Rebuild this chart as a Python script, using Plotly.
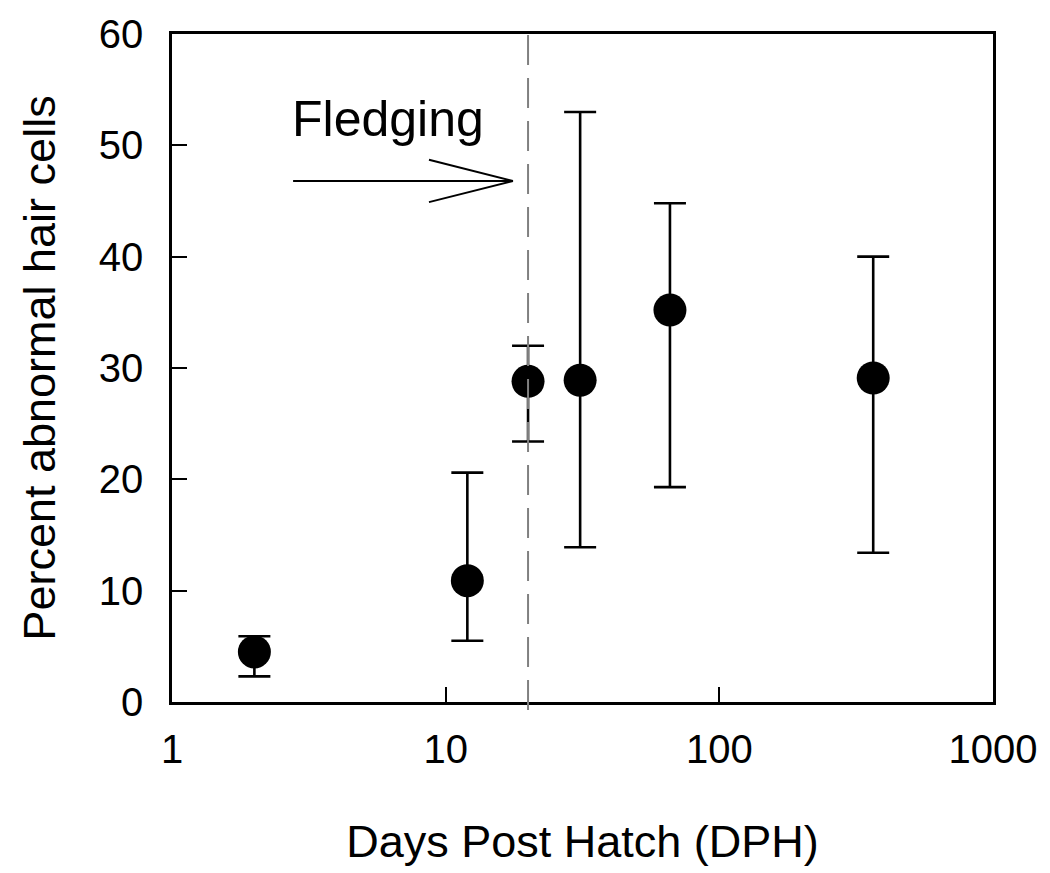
import plotly.graph_objects as go
import numpy as np

# Data
days = [2, 12, 20, 31, 66, 365]
percent = [4.5, 10.9, 28.8, 28.9, 35.2, 29.1]
err_plus = [1.4, 9.7, 3.2, 24.1, 9.6, 10.9]
err_minus = [2.2, 5.4, 5.4, 15.0, 15.9, 15.7]

fledging_day = 20
x_ticks = [1, 10, 100, 1000]
x_tick_labels = ["1", "10", "100", "1000"]
y_ticks = [0, 10, 20, 30, 40, 50, 60]

FONT = "Liberation Sans, Arial, sans-serif"

fig = go.Figure()

fig.add_trace(go.Scatter(
    x=days, y=percent, mode="markers",
    marker=dict(size=33, color="black"),
    error_y=dict(type="data", symmetric=False, array=err_plus, arrayminus=err_minus,
                 color="black", thickness=2.6, width=16),
    showlegend=False, cliponaxis=False,
))

# Arrow (open V head) drawn as lines
arrow_x = [2.77, 17.6]
arrow_y = [46.8, 46.8]
head_x = [8.69, 17.6, 8.69]
head_y = [48.7, 46.8, 44.9]
fig.add_trace(go.Scatter(x=arrow_x, y=arrow_y, mode="lines",
                         line=dict(color="black", width=2), showlegend=False, hoverinfo="skip"))
fig.add_trace(go.Scatter(x=head_x, y=head_y, mode="lines",
                         line=dict(color="black", width=2), showlegend=False, hoverinfo="skip"))

# dashed fledging line
fig.add_shape(type="line", xref="x", yref="paper", x0=fledging_day, x1=fledging_day,
              y0=-0.012, y1=1.012, line=dict(color="#808080", width=2, dash="30px,13px"))

fig.add_annotation(x=np.log10(6.15), y=52.4, xref="x", yref="y", text="Fledging",
                   showarrow=False, font=dict(family=FONT, size=50, color="black"))

fig.update_xaxes(type="log", range=[0, 3], tickvals=x_ticks, ticktext=x_tick_labels,
                 ticks="inside", ticklen=15, tickwidth=2, tickcolor="black",
                 showline=True, linewidth=2.5, linecolor="black", mirror=True,
                 showgrid=False, zeroline=False, ticklabeloverflow="allow",
                 tickfont=dict(family=FONT, size=40, color="black"),
                 ticklabelstandoff=10,
                 title=dict(text="Days Post Hatch (DPH)", standoff=56,
                            font=dict(family=FONT, size=45, color="black")))
fig.update_yaxes(range=[0, 60], tickvals=y_ticks,
                 ticks="inside", ticklen=15, tickwidth=2, tickcolor="black",
                 showline=True, linewidth=2.5, linecolor="black", mirror=True,
                 showgrid=False, zeroline=False, ticklabeloverflow="allow",
                 tickfont=dict(family=FONT, size=40, color="black"),
                 ticklabelstandoff=18,
                 title=dict(text="Percent abnormal hair cells", standoff=30,
                            font=dict(family=FONT, size=45, color="black")))

fig.update_layout(width=1050, height=873, margin=dict(l=172, r=57, t=25, b=171),
                  plot_bgcolor="white", paper_bgcolor="white",
                  font=dict(family=FONT, color="black"))

fig.write_html("out.html", config={"displayModeBar": False},
               post_script="document.body.style.margin='0';")
